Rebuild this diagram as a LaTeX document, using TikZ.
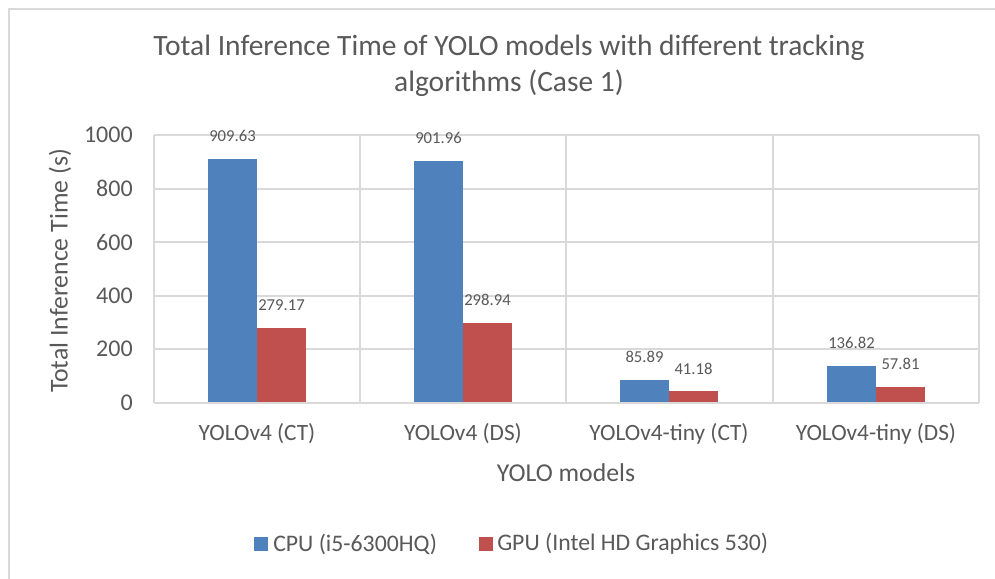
\documentclass[tikz,border=0pt]{standalone}
\usepackage{fontspec}
\setmainfont{Carlito}
\definecolor{cpublue}{HTML}{4F81BD}
\definecolor{gpured}{HTML}{C0504D}
\definecolor{gridgray}{HTML}{D9D9D9}
\definecolor{txtgray}{HTML}{595959}
\tikzset{
  gridline/.style={draw=gridgray, line width=1.5pt},
  valuelabel/.style={text=txtgray, font=\fontsize{12.5}{14}\selectfont, inner sep=0pt},
  ticklabel/.style={text=txtgray, font=\fontsize{18}{21}\selectfont, inner sep=0pt, anchor=east},
  catlabel/.style={text=txtgray, font=\fontsize{17.5}{20}\selectfont, inner sep=0pt},
  axistitle/.style={text=txtgray, font=\fontsize{19.3}{23}\selectfont, inner sep=0pt},
  legendtext/.style={text=txtgray, font=\fontsize{17.8}{21}\selectfont, inner sep=0pt, anchor=west},
}
\begin{document}
\begin{tikzpicture}[x=0.75pt,y=-0.75pt]
  % canvas
  \useasboundingbox (0,0) rectangle (995,578);
  \fill[white] (0,0) rectangle (995,578);
  % chart frame (runs past the right and bottom edges)
  \draw[draw=gridgray, line width=1.1pt] (9,600) -- (9,9) -- (1010,9);

  % title
  \node[text=txtgray, font=\fontsize{22.1}{27}\selectfont, align=center, inner sep=0pt] (title) at (509,66)
    {Total Inference Time of YOLO models with different tracking\\algorithms (Case 1)};

  % horizontal gridlines and tick labels (0..1000, 200 per step = 53.5px)
  \foreach \v [count=\i] in {0,200,400,600,800,1000} {
    \pgfmathsetmacro{\yy}{402.5-0.2675*\v}
    \draw[gridline] (154,\yy) -- (979,\yy);
    \node[ticklabel] (tick\i) at (133,\yy) {\v};
  }
  % vertical category separators
  \foreach \xx in {154,360,566,773,979} {
    \draw[gridline] (\xx,135) -- (\xx,402.5);
  }

  % bars: category center, cpu value, gpu value, category label
  \foreach \cx/\cpu/\gpu/\lab [count=\k] in {
      257/909.63/279.17/{YOLOv4 (CT)},
      463/901.96/298.94/{YOLOv4 (DS)},
      669/85.89/41.18/{YOLOv4-tiny (CT)},
      876/136.82/57.81/{YOLOv4-tiny (DS)}} {
    \pgfmathsetmacro{\ycpu}{402.5-0.2675*\cpu}
    \pgfmathsetmacro{\ygpu}{402.5-0.2675*\gpu}
    \fill[cpublue] (\cx-49,402) rectangle (\cx,\ycpu);
    \fill[gpured] (\cx,402) rectangle (\cx+49,\ygpu);
    \node[valuelabel] (cpuval\k) at (\cx-24.5,\ycpu-23) {\cpu};
    \node[valuelabel] (gpuval\k) at (\cx+24.5,\ygpu-23) {\gpu};
    \node[catlabel] (cat\k) at (\cx,434) {\lab};
  }

  % axis titles
  \node[axistitle] (xtitle) at (566,473) {YOLO models};
  \node[axistitle, rotate=90] (ytitle) at (60,271) {Total Inference Time (s)};

  % legend
  \fill[cpublue] (254,537) rectangle (268,551);
  \node[legendtext] (legcpu) at (273,544) {CPU (i5-6300HQ)};
  \fill[gpured] (479,537) rectangle (493,551);
  \node[legendtext] (leggpu) at (497,544) {GPU (Intel HD Graphics 530)};
\end{tikzpicture}
\end{document}
